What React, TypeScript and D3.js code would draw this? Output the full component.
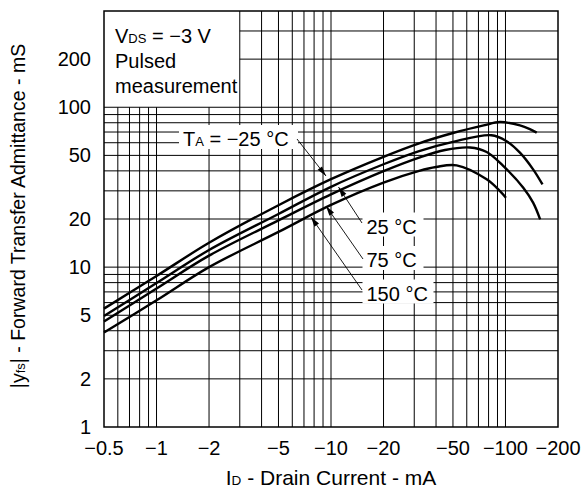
import React from 'react';
import * as d3 from 'd3';

// ---- data ----
const xTicks = [0.5, 1, 2, 5, 10, 20, 50, 100, 200];
const xTickLabels = ['−0.5', '−1', '−2', '−5', '−10', '−20', '−50', '−100', '−200'];
const yTicks = [1, 2, 5, 10, 20, 50, 100, 200];
const yTickLabels = ['1', '2', '5', '10', '20', '50', '100', '200'];
const xGrid = [0.6, 0.7, 0.8, 0.9, 1, 2, 3, 4, 5, 6, 7, 8, 9, 10, 20, 30, 40, 50, 60, 70, 80, 90, 100];
const yGrid = [2, 3, 4, 5, 6, 7, 8, 9, 10, 20, 30, 40, 50, 60, 70, 80, 90, 100, 200, 300];

// |ID| (mA), |yfs| (mS)
const curveM25: [number, number][] = [[0.5, 5.5], [1, 8.8], [2, 14.2], [5, 24.4], [10, 35.5], [20, 49], [32, 59.5], [50, 69], [75, 77], [93, 80.8], [121, 77], [138, 73], [151, 69.4]];
const curve25: [number, number][] = [[0.5, 4.95], [1, 7.95], [2, 12.8], [5, 21.5], [10, 31.8], [20, 44], [32, 53.2], [50, 60.8], [83, 66.8], [101, 61.5], [121, 52], [144, 40.9], [163, 32.9]];
const curve75: [number, number][] = [[0.5, 4.57], [1, 7.35], [2, 11.8], [5, 19.6], [10, 28.5], [20, 39.8], [32, 48.4], [45, 54], [62.6, 56], [78, 52.5], [97, 43], [126.5, 31.4], [144, 25.3], [158, 19.9]];
const curve150: [number, number][] = [[0.5, 3.9], [1, 6.2], [2, 10], [5, 16.6], [10, 24.5], [20, 33.8], [32, 40], [40, 42.3], [52.5, 43.3], [78, 35.4], [93, 29.9], [100.6, 27.2]];
const curves = [curveM25, curve25, curve75, curve150];

const W = 583, H = 491;
const L = 104, R = 558, T = 11, B = 427;
const FONT = 'Liberation Sans, Arial, Helvetica, sans-serif';

export default function App() {
  const x = d3.scaleLog().domain([0.5, 200]).range([L, R]);
  const y = d3.scaleLog().domain([1, 400]).range([B, T]);
  const line = d3.line<[number, number]>()
    .x(d => x(d[0]))
    .y(d => y(d[1]))
    .curve(d3.curveCatmullRom.alpha(0.5));

  const labels = [
    { tx: 183, ty: 146, w: 110, sub: true, text: ' = −25 °C', from: [297, 139], to: [326, 176] },
    { tx: 366.5, ty: 233.5, w: 52, sub: false, text: '25 °C', from: [362, 223], to: [338.5, 187] },
    { tx: 366.5, ty: 267, w: 52, sub: false, text: '75 °C', from: [363, 259], to: [326, 206] },
    { tx: 366.5, ty: 300.5, w: 62, sub: false, text: '150 °C', from: [362, 290], to: [311, 217] },
  ];

  const arrowHead = (from: number[], to: number[]) => {
    const dx = to[0] - from[0], dy = to[1] - from[1];
    const len = Math.hypot(dx, dy);
    const ux = dx / len, uy = dy / len;
    const hl = 10, hw = 2.8;
    const bx = to[0] - ux * hl, by = to[1] - uy * hl;
    return `M${to[0]},${to[1]}L${bx - uy * hw},${by + ux * hw}L${bx + uy * hw},${by - ux * hw}Z`;
  };

  return (
    <svg width={W} height={H} style={{ position: 'absolute', left: 0, top: 0, background: '#fff' }} fontFamily={FONT}>
      <rect x={0} y={0} width={W} height={H} fill="#fff" />
      {/* grid */}
      {xGrid.map(v => (
        <line key={'gx' + v} x1={x(v)} x2={x(v)} y1={B} y2={v < 3 ? y(100) : T} stroke="#000" strokeWidth={1} />
      ))}
      {yGrid.map(v => (
        <line key={'gy' + v} x1={v > 100 ? x(3) : L} x2={R} y1={y(v)} y2={y(v)} stroke="#000" strokeWidth={1} />
      ))}
      {/* label backgrounds */}
      {labels.map((l, i) => (
        <rect key={'bg' + i} x={l.tx - 4} y={l.ty - 21} width={l.w + 9} height={24} fill="#fff" />
      ))}
      {/* curves */}
      {curves.map((c, i) => (
        <path key={'c' + i} d={line(c) || ''} fill="none" stroke="#000" strokeWidth={2.4} strokeLinecap="butt" />
      ))}
      {/* frame */}
      <rect x={L} y={T} width={R - L} height={B - T} fill="none" stroke="#000" strokeWidth={1.5} />
      {/* annotation box text */}
      <text x={115} y={43} fontSize={20}>V<tspan fontSize={13}>DS</tspan> = −3 V</text>
      <text x={115} y={68} fontSize={20}>Pulsed</text>
      <text x={115} y={93} fontSize={20}>measurement</text>
      {/* labels & arrows */}
      {labels.map((l, i) => (
        <g key={'l' + i}>
          <text x={l.tx} y={l.ty} fontSize={20}>
            {l.sub ? <>T<tspan fontSize={13}>A</tspan></> : null}{l.text}
          </text>
          <line x1={l.from[0]} y1={l.from[1]} x2={l.to[0]} y2={l.to[1]} stroke="#000" strokeWidth={0.9} />
          <path d={arrowHead(l.from, l.to)} fill="#000" />
        </g>
      ))}
      {/* ticks */}
      {xTicks.map((v, i) => (
        <text key={'xt' + v} x={x(v)} y={455} fontSize={20} textAnchor="middle">{xTickLabels[i]}</text>
      ))}
      {yTicks.map((v, i) => (
        <text key={'yt' + v} x={91} y={y(v) + 7} fontSize={20} textAnchor="end">{yTickLabels[i]}</text>
      ))}
      {/* axis titles */}
      <text x={331} y={485} fontSize={21} textAnchor="middle">I<tspan fontSize={13.5}>D</tspan> - Drain Current - mA</text>
      <text transform={`translate(25,216) rotate(-90)`} fontSize={19.5} textAnchor="middle">|y<tspan fontSize={13}>fs</tspan>| - Forward Transfer Admittance - mS</text>
    </svg>
  );
}
